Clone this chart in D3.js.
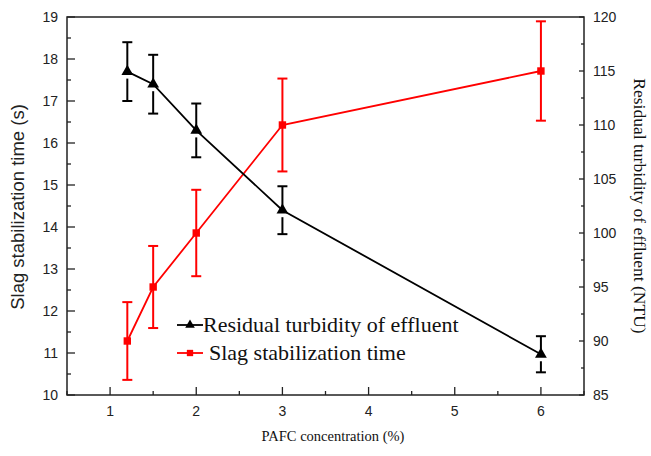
<!DOCTYPE html>
<html>
<head>
<meta charset="utf-8">
<script src="https://cdn.jsdelivr.net/npm/d3@7"></script>
<style>
  body { margin: 0; background: #fff; }
  .tick-label { font-family: "Liberation Sans", Arial, sans-serif; font-size: 14px; fill: #222; }
  .serif { font-family: "Liberation Serif", "Times New Roman", serif; fill: #111; }
</style>
</head>
<body>
<svg id="chart" width="651" height="456"></svg>
<script>
// PAFC concentration (%)
const concentration = [1.2, 1.5, 2, 3, 6];

// black series, read against the left axis
const turbidity = [17.7, 17.4, 16.3, 14.4, 10.97];
const turbidityErr = [0.7, 0.7, 0.64, 0.57, 0.43];

// red series, read against the right axis
const slagTime = [90, 95, 100, 110, 115];
const slagTimeErr = [3.6, 3.8, 4.0, 4.3, 4.6];

const xTicks = [1, 2, 3, 4, 5, 6];
const leftTicks = d3.range(10, 20, 1);
const rightTicks = d3.range(85, 121, 5);

const svg = d3.select("#chart");
const margin = { left: 67, right: 584, top: 17, bottom: 395 };

const x = d3.scaleLinear().domain([0.5, 6.5]).range([margin.left, margin.right]);
const yL = d3.scaleLinear().domain([10, 19]).range([margin.bottom, margin.top]);
const yR = d3.scaleLinear().domain([85, 120]).range([margin.bottom, margin.top]);

// frame
svg.append("rect")
  .attr("x", margin.left).attr("y", margin.top)
  .attr("width", margin.right - margin.left)
  .attr("height", margin.bottom - margin.top)
  .attr("fill", "none").attr("stroke", "#222").attr("stroke-width", 1.5);

// bottom axis, ticks inward
const minorX = d3.range(0.5, 6.51, 0.5).filter(v => !xTicks.includes(v));
const bottom = svg.append("g").attr("transform", `translate(0,${margin.bottom})`);
bottom.selectAll(".mn").data(minorX).join("line")
  .attr("x1", d => x(d)).attr("x2", d => x(d)).attr("y1", 0).attr("y2", -4)
  .attr("stroke", "#222").attr("stroke-width", 1.3);
bottom.selectAll(".mj").data(xTicks).join("line")
  .attr("x1", d => x(d)).attr("x2", d => x(d)).attr("y1", 0).attr("y2", -8)
  .attr("stroke", "#222").attr("stroke-width", 1.3);
bottom.selectAll("text").data(xTicks).join("text")
  .attr("class", "tick-label")
  .attr("x", d => x(d)).attr("y", 21)
  .attr("text-anchor", "middle").text(d => d);

// left axis
const minorL = d3.range(10.5, 19, 1);
const left = svg.append("g").attr("transform", `translate(${margin.left},0)`);
left.selectAll(".mn").data(minorL).join("line")
  .attr("x1", 0).attr("x2", 4).attr("y1", d => yL(d)).attr("y2", d => yL(d))
  .attr("stroke", "#222").attr("stroke-width", 1.3);
left.selectAll(".mj").data(leftTicks).join("line")
  .attr("x1", 0).attr("x2", 8).attr("y1", d => yL(d)).attr("y2", d => yL(d))
  .attr("stroke", "#222").attr("stroke-width", 1.3);
left.selectAll("text").data(leftTicks).join("text")
  .attr("class", "tick-label")
  .attr("x", -9).attr("y", d => yL(d) + 5)
  .attr("text-anchor", "end").text(d => d);

// right axis
const minorR = d3.range(87.5, 120, 5);
const right = svg.append("g").attr("transform", `translate(${margin.right},0)`);
right.selectAll(".mn").data(minorR).join("line")
  .attr("x1", 0).attr("x2", -3).attr("y1", d => yR(d)).attr("y2", d => yR(d))
  .attr("stroke", "#222").attr("stroke-width", 1.3);
right.selectAll(".mj").data(rightTicks).join("line")
  .attr("x1", 0).attr("x2", -5).attr("y1", d => yR(d)).attr("y2", d => yR(d))
  .attr("stroke", "#222").attr("stroke-width", 1.3);
right.selectAll("text").data(rightTicks).join("text")
  .attr("class", "tick-label")
  .attr("x", 9).attr("y", d => yR(d) + 5)
  .attr("text-anchor", "start").text(d => d);

// axis titles
svg.append("text")
  .attr("class", "serif")
  .attr("x", 333).attr("y", 441)
  .attr("text-anchor", "middle").attr("font-size", 14.5)
  .text("PAFC concentration (%)");

svg.append("text")
  .attr("transform", `translate(24,207) rotate(-90)`)
  .attr("text-anchor", "middle")
  .style("font-family", "'Liberation Sans', Arial, sans-serif")
  .attr("font-size", 18.5).attr("fill", "#222")
  .text("Slag stabilization time (s)");

svg.append("text")
  .attr("class", "serif")
  .attr("transform", `translate(634,${(margin.top + margin.bottom) / 2}) rotate(90)`)
  .attr("text-anchor", "middle").attr("font-size", 17.5)
  .text("Residual turbidity of effluent (NTU)");

const tri = d3.symbol().type(d3.symbolTriangle).size(60);
const sq = d3.symbol().type(d3.symbolSquare).size(55);

function drawSeries(xs, ys, errs, scale, color, symbol, gapBelow) {
  const g = svg.append("g");
  const pts = xs.map((c, i) => ({ c, v: ys[i], e: errs[i] }));

  g.append("path").datum(pts)
    .attr("d", d3.line().x(d => x(d.c)).y(d => scale(d.v)))
    .attr("fill", "none").attr("stroke", color).attr("stroke-width", 1.8);

  const eb = g.selectAll(".eb").data(pts).join("g");
  eb.append("line")
    .attr("x1", d => x(d.c)).attr("x2", d => x(d.c))
    .attr("y1", d => scale(d.v + d.e)).attr("y2", d => scale(d.v))
    .attr("stroke", color).attr("stroke-width", 2);
  eb.append("line")
    .attr("x1", d => x(d.c)).attr("x2", d => x(d.c))
    .attr("y1", d => scale(d.v) + gapBelow).attr("y2", d => scale(d.v - d.e))
    .attr("stroke", color).attr("stroke-width", 2);
  [1, -1].forEach(s => {
    eb.append("line")
      .attr("x1", d => x(d.c) - 5).attr("x2", d => x(d.c) + 5)
      .attr("y1", d => scale(d.v + s * d.e)).attr("y2", d => scale(d.v + s * d.e))
      .attr("stroke", color).attr("stroke-width", 2);
  });

  g.selectAll(".mk").data(pts).join("path")
    .attr("transform", d => `translate(${x(d.c)},${scale(d.v)})`)
    .attr("d", symbol).attr("fill", color);
}

drawSeries(concentration, slagTime, slagTimeErr, yR, "#f00", sq, 0);
drawSeries(concentration, turbidity, turbidityErr, yL, "#000", tri, 7);

// legend
const legend = [
  { label: "Residual turbidity of effluent", color: "#000", symbol: tri, y: 325, tx: 203 },
  { label: "Slag stabilization time", color: "#f00", symbol: sq, y: 353, tx: 209 }
];
const lg = svg.append("g").selectAll("g").data(legend).join("g");
lg.append("line")
  .attr("x1", 177).attr("x2", 203).attr("y1", d => d.y).attr("y2", d => d.y)
  .attr("stroke", d => d.color).attr("stroke-width", 1.8);
lg.append("path")
  .attr("transform", d => `translate(190,${d.y})`)
  .attr("d", d => d.symbol.size(40)()).attr("fill", d => d.color);
lg.append("text")
  .attr("class", "serif")
  .attr("x", d => d.tx).attr("y", d => d.y + 7)
  .attr("font-size", 22).text(d => d.label);
</script>
</body>
</html>
